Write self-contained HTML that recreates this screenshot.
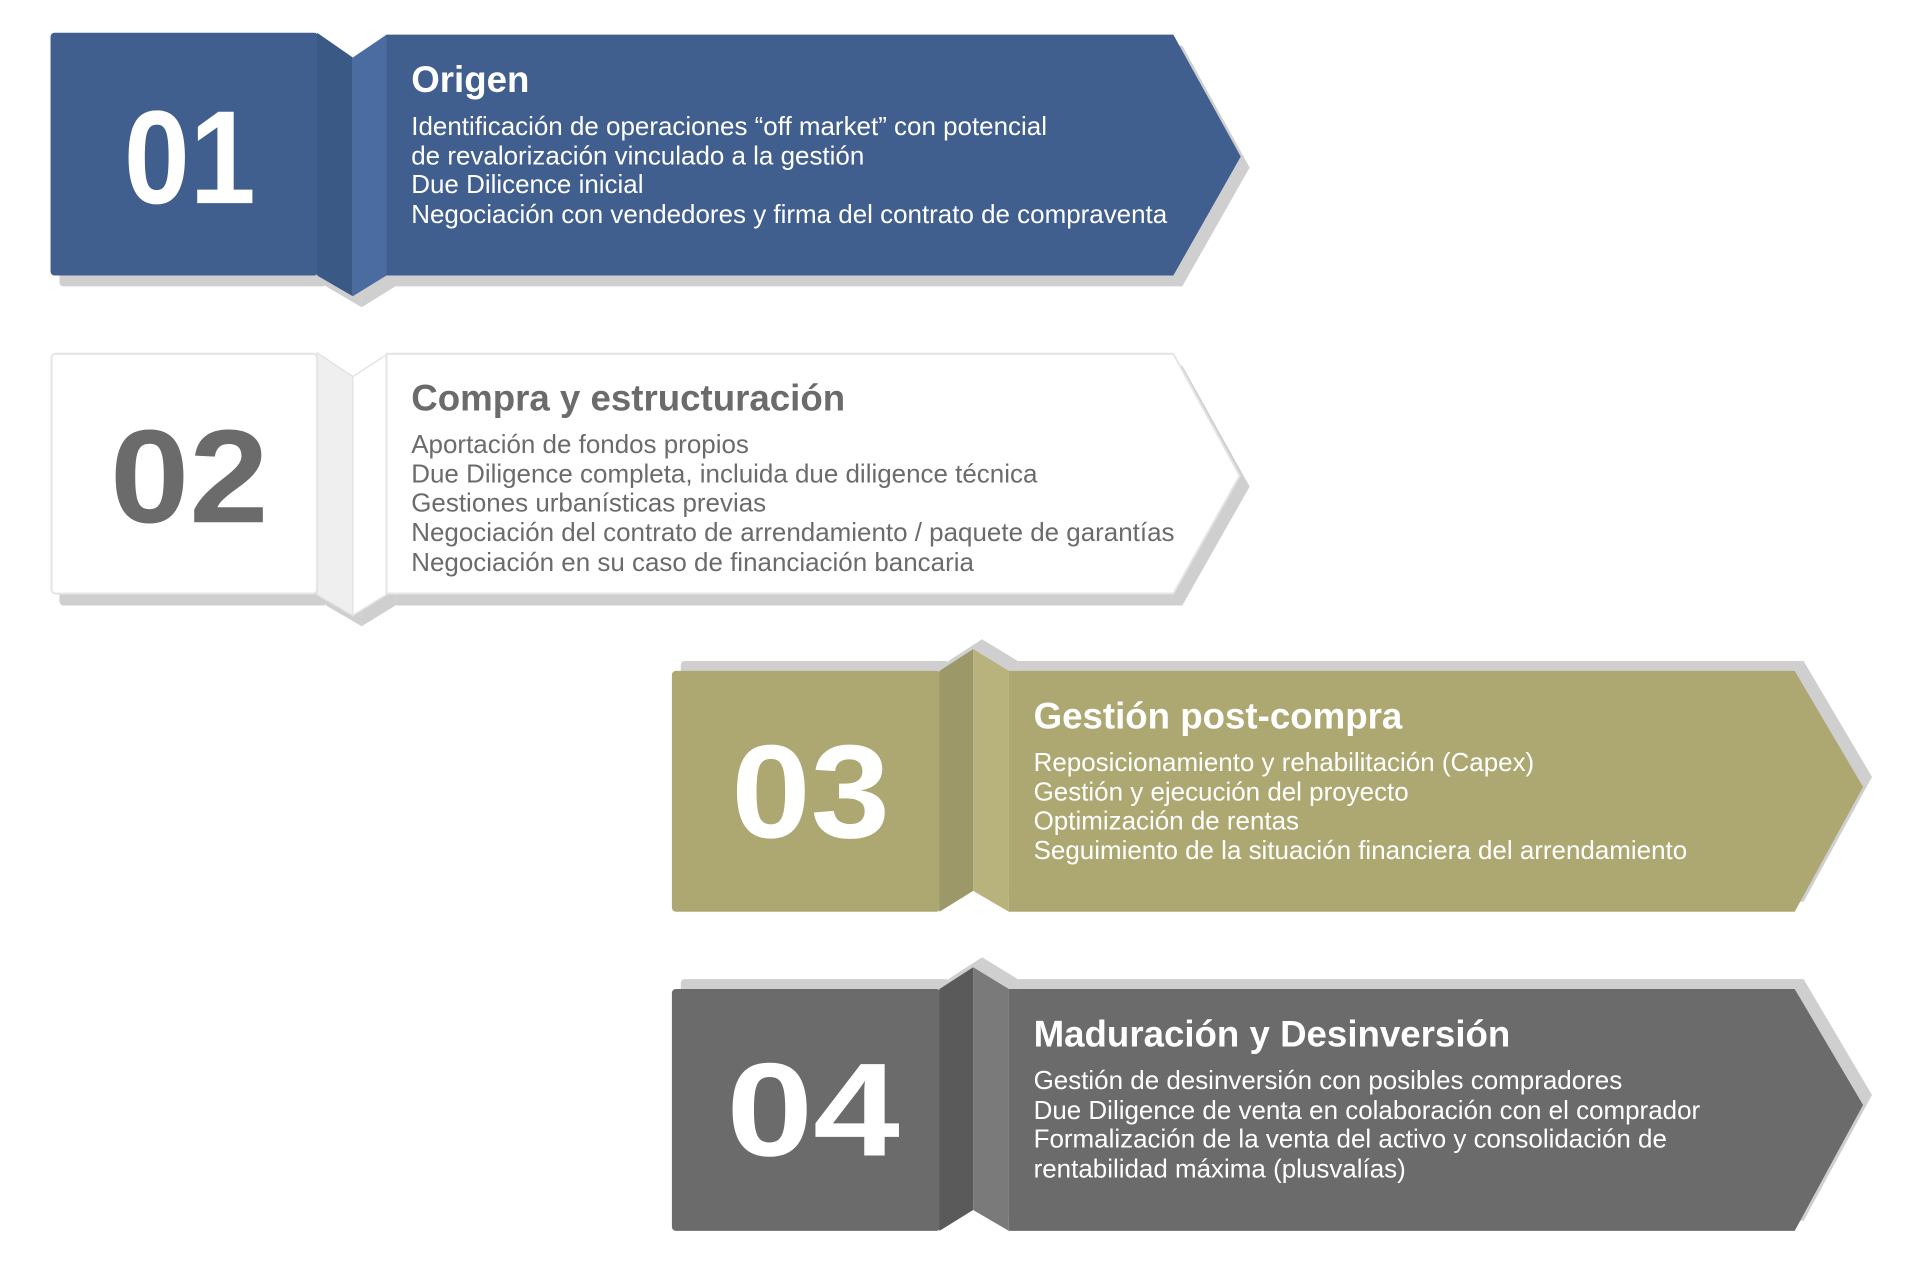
<!DOCTYPE html>
<html><head><meta charset="utf-8"><style>
html,body{margin:0;padding:0;background:#fff;}
svg{display:block;}
text{font-family:"Liberation Sans",Arial,sans-serif;}
.n{font-weight:bold;font-size:134px;}
.t{font-weight:bold;font-size:37px;}
.b{font-size:26.2px;}
</style></head><body>
<svg width="1920" height="1265" viewBox="0 0 1920 1265" xmlns="http://www.w3.org/2000/svg">
<g transform="scale(0.991)">
<!-- Block 1 -->
<g transform="translate(9,11)" fill="#cfcfcf">
<rect x="51" y="33" width="270" height="245" rx="4"/>
<polygon points="320,33 356,58 356,299 320,278"/>
<polygon points="356,58 390,35 390,278 356,299"/>
<polygon points="390,35 1184,35 1252,158 1184,278 390,278"/>
</g>
<rect x="51" y="33" width="270" height="245" rx="4" fill="#405e8e"/>
<polygon points="320,33 356,58 356,299 320,278" fill="#3a5985"/>
<polygon points="356,58 390,35 390,278 356,299" fill="#4a6ca0"/>
<polygon points="390,35 1184,35 1252,158 1184,278 390,278" fill="#405e8e"/>
<text class="n" x="125" y="205" textLength="133" lengthAdjust="spacingAndGlyphs" fill="#fff">01</text>
<text class="t" x="415" y="93" fill="#fff">Origen</text>
<g class="b" fill="#fff">
<text x="415" y="136">Identificación de operaciones “off market” con potencial</text>
<text x="415" y="166">de revalorización vinculado a la gestión</text>
<text x="415" y="195">Due Dilicence inicial</text>
<text x="415" y="225">Negociación con vendedores y firma del contrato de compraventa</text>
</g>
<!-- Block 2 -->
<g transform="translate(9,11)" fill="#cfcfcf">
<rect x="51" y="356" width="270" height="244" rx="4"/>
<polygon points="320,356 356,380 356,621 320,600"/>
<polygon points="356,380 390,358 390,600 356,621"/>
<polygon points="390,358 1184,358 1252,480 1184,600 390,600"/>
</g>
<rect x="52" y="357" width="268" height="242" rx="4" fill="#fff" stroke="#e4e4e4" stroke-width="2"/>
<polygon points="320,356 356,380 356,621 320,600" fill="#efefef" stroke="#e4e4e4" stroke-width="1.5"/>
<polygon points="356,380 390,358 390,600 356,621" fill="#fff" stroke="#e4e4e4" stroke-width="1.5"/>
<polygon points="390,357 1184,357 1251,480 1184,599 390,599" fill="#fff" stroke="#e4e4e4" stroke-width="2"/>
<text class="n" x="111" y="527" textLength="160" lengthAdjust="spacingAndGlyphs" fill="#6b6b6b">02</text>
<text class="t" x="415" y="414" fill="#6b6b6b">Compra y estructuración</text>
<g class="b" fill="#6b6b6b">
<text x="415" y="457">Aportación de fondos propios</text>
<text x="415" y="487">Due Diligence completa, incluida due diligence técnica</text>
<text x="415" y="516">Gestiones urbanísticas previas</text>
<text x="415" y="546">Negociación del contrato de arrendamiento / paquete de garantías</text>
<text x="415" y="576">Negociación en su caso de financiación bancaria</text>
</g>
<!-- Block 3 -->
<g transform="translate(9,-10)" fill="#cfcfcf">
<rect x="678" y="677" width="271" height="243" rx="4"/>
<polygon points="948,677 982,655 982,899 948,920"/>
<polygon points="982,655 1018,677 1018,920 982,899"/>
<polygon points="1018,677 1811,677 1880,794 1811,920 1018,920"/>
</g>
<rect x="678" y="677" width="271" height="243" rx="4" fill="#ada872"/>
<polygon points="948,677 982,655 982,899 948,920" fill="#9d9868"/>
<polygon points="982,655 1018,677 1018,920 982,899" fill="#b8b27c"/>
<polygon points="1018,677 1811,677 1880,794 1811,920 1018,920" fill="#ada872"/>
<text class="n" x="738" y="845" textLength="160" lengthAdjust="spacingAndGlyphs" fill="#fff">03</text>
<text class="t" x="1043" y="735" fill="#fff">Gestión post-compra</text>
<g class="b" fill="#fff">
<text x="1043" y="778">Reposicionamiento y rehabilitación (Capex)</text>
<text x="1043" y="808">Gestión y ejecución del proyecto</text>
<text x="1043" y="837">Optimización de rentas</text>
<text x="1043" y="867">Seguimiento de la situación financiera del arrendamiento</text>
</g>
<!-- Block 4 -->
<g transform="translate(9,-10)" fill="#cfcfcf">
<rect x="678" y="998" width="271" height="244" rx="4"/>
<polygon points="948,998 982,976 982,1221 948,1242"/>
<polygon points="982,976 1018,998 1018,1242 982,1221"/>
<polygon points="1018,998 1811,998 1880,1115 1811,1242 1018,1242"/>
</g>
<rect x="678" y="998" width="271" height="244" rx="4" fill="#6b6b6b"/>
<polygon points="948,998 982,976 982,1221 948,1242" fill="#5a5a5a"/>
<polygon points="982,976 1018,998 1018,1242 982,1221" fill="#7a7a7a"/>
<polygon points="1018,998 1811,998 1880,1115 1811,1242 1018,1242" fill="#6b6b6b"/>
<text class="n" x="733" y="1166" textLength="175" lengthAdjust="spacingAndGlyphs" fill="#fff">04</text>
<text class="t" x="1043" y="1056" fill="#fff">Maduración y Desinversión</text>
<g class="b" fill="#fff">
<text x="1043" y="1099">Gestión de desinversión con posibles compradores</text>
<text x="1043" y="1129">Due Diligence de venta en colaboración con el comprador</text>
<text x="1043" y="1158">Formalización de la venta del activo y consolidación de</text>
<text x="1043" y="1188">rentabilidad máxima (plusvalías)</text>
</g>
</g>
</svg>
</body></html>
